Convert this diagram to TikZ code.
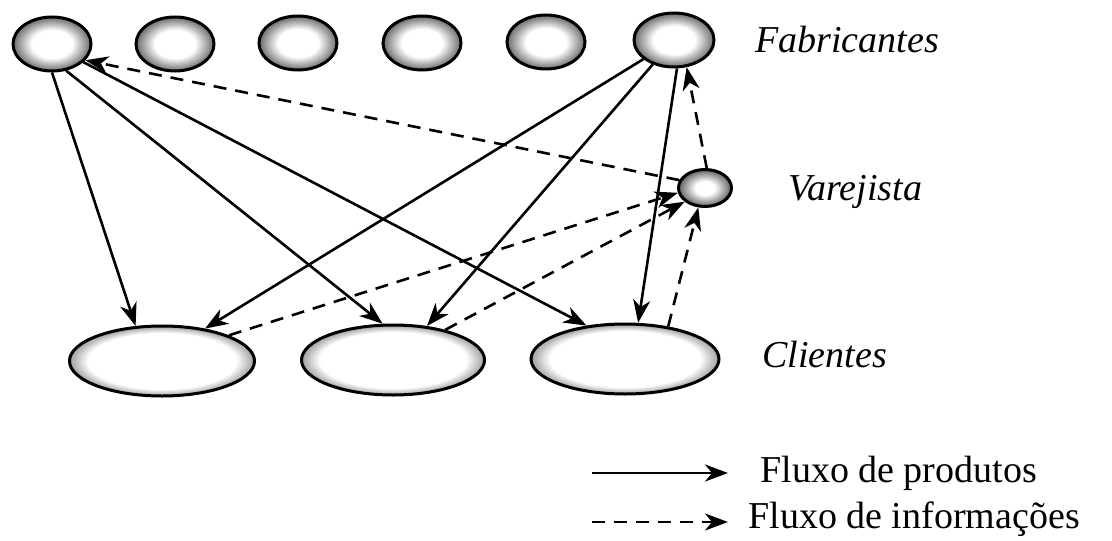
\documentclass[tikz,border=0pt]{standalone}
\usepackage{fontspec}
\setmainfont{Liberation Serif}
\usetikzlibrary{shapes.geometric,arrows.meta}

% radial fills: light centre fading to grey at the rim
\pgfdeclareradialshading{fabshade}{\pgfpoint{0bp}{0bp}}{%
  color(0bp)=(white); color(13bp)=(white); color(25bp)=(black!58); color(50bp)=(black!58)}
\pgfdeclareradialshading{varshade}{\pgfpoint{0bp}{0bp}}{%
  color(0bp)=(white); color(9bp)=(white); color(25bp)=(black!62); color(50bp)=(black!62)}
\pgfdeclareradialshading{clishade}{\pgfpoint{0bp}{0bp}}{%
  color(0bp)=(white); color(20bp)=(white); color(25bp)=(black!38); color(50bp)=(black!38)}

\begin{document}
\begin{tikzpicture}[x=0.5pt,y=-0.5pt,
  party/.style={ellipse, draw, line width=1.5pt, inner sep=0pt, shade},
  fab/.style={party, shading=fabshade, minimum width=39pt, minimum height=27pt},
  var/.style={party, shading=varshade, minimum width=26.5pt, minimum height=18.5pt},
  cli/.style={party, shading=clishade, minimum height=35pt},
  tip/.style={-{Stealth[length=11.5pt,width=8.5pt,inset=3.5pt]}},
  prod/.style={tip, line width=1.3pt},
  info/.style={tip, line width=1.3pt, dash pattern=on 6.5pt off 4.5pt},
  lbl/.style={font=\fontsize{19}{22}\selectfont\itshape, inner sep=0pt, anchor=base west},
  leg/.style={font=\fontsize{19}{22}\selectfont, inner sep=0pt, anchor=base west}]

\useasboundingbox (0,0) rectangle (1112,540);

% manufacturers
\node[fab] (f1) at (52,44) {};
\node[fab] (f2) at (175,44) {};
\node[fab] (f3) at (298,43) {};
\node[fab] (f4) at (422,43) {};
\node[fab] (f5) at (546,42) {};
\node[fab, minimum width=40pt] (f6) at (674,40) {};

% retailer
\node[var] (v) at (705,188) {};

% customers
\node[cli, minimum width=92.5pt] (c1) at (162,361) {};
\node[cli, minimum width=91.5pt] (c2) at (393,360) {};
\node[cli, minimum width=94pt]   (c3) at (625,359) {};

% row labels
\node[lbl] (lf) at (755,53)  {Fabricantes};
\node[lbl] (lv) at (788,200) {Varejista};
\node[lbl] (lc) at (762,367) {Clientes};

% product flows
\draw[prod] (f1.-90)   -- (c1.127);
\draw[prod] (f1.-62.6) -- (c2.106);
\draw[prod] (f1.-30)   -- (c3.139.6);
\draw[prod] (f6.-148)  -- (c1.37);
\draw[prod] (f6.-131)  -- (c2.45.8);
\draw[prod] (f6.-84)   -- (c3.70.6);

% information flows
\draw[info] (v.163.5) -- (f1.-26);
\draw[info] (v.85)    -- (f6.-65);
\draw[info] (c1.21.5) -- (v.-170);
\draw[info] (c2.30.6) -- (v.-146);
\draw[info] (c3.37.5) -- (v.-109);

% legend
\coordinate (ps) at (592,473);
\coordinate (pe) at (728,473);
\coordinate (is) at (592,522);
\coordinate (ie) at (728,522);
\draw[prod] (ps) -- (pe);
\draw[info] (is) -- (ie);
\node[leg] (lp) at (760,482) {Fluxo de produtos};
\node[leg] (li) at (748,528) {Fluxo de informações};

\end{tikzpicture}
\end{document}
